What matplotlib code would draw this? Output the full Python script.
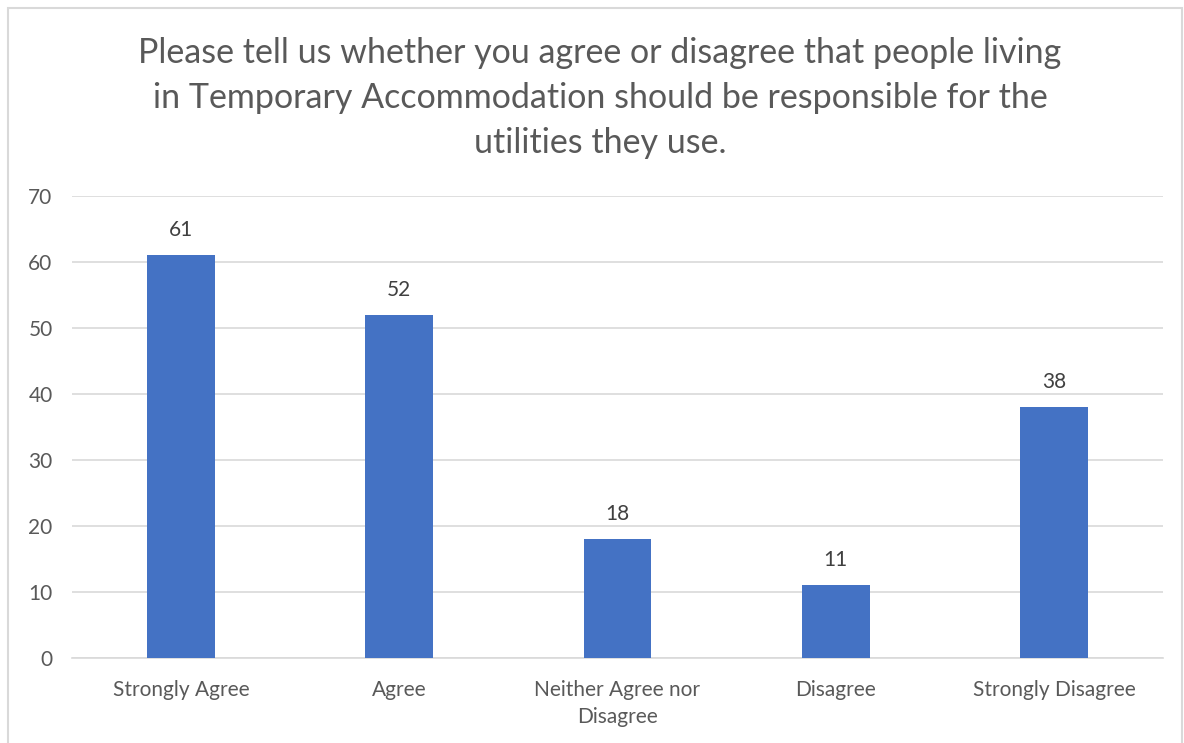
import matplotlib.pyplot as plt
from matplotlib.patches import Rectangle

categories = ["Strongly Agree", "Agree", "Neither Agree nor\nDisagree", "Disagree", "Strongly Disagree"]
responses = [61, 52, 18, 11, 38]
y_ticks = [0, 10, 20, 30, 40, 50, 60, 70]

title = ("Please tell us whether you agree or disagree that people living\n"
         "in Temporary Accommodation should be responsible for the\n"
         "utilities they use.")

plt.rcParams['font.family'] = ['Lato', 'DejaVu Sans']

W, H = 1184, 743
fig = plt.figure(figsize=(W / 100, H / 100), dpi=100)
fig.patch.set_facecolor('white')

# plot area in pixel coordinates
left, right, top, bottom = 72, 1163, 196, 658
ax = fig.add_axes([left / W, 1 - bottom / H, (right - left) / W, (bottom - top) / H])

x = range(len(categories))
bars = ax.bar(x, responses, width=0.31, color='#4472C4', zorder=3)
for b, v in zip(bars, responses):
    ax.annotate(str(v), (b.get_x() + b.get_width() / 2, v), xytext=(0, 18),
                textcoords='offset points', ha='center', va='center',
                fontsize=15, color='#404040')

ax.set_xlim(-0.5, len(categories) - 0.5)
ax.set_ylim(0, 70)
ax.set_yticks(y_ticks)
ax.yaxis.grid(True, color='#D9D9D9', linewidth=1.2, zorder=0)
ax.set_xticks(list(x))
ax.set_xticklabels(categories, fontsize=15, color='#595959', linespacing=1.45)
ax.tick_params(axis='y', labelsize=15, labelcolor='#595959', length=0, pad=14)
ax.tick_params(axis='x', length=0, pad=16)
for s in ['top', 'right', 'left']:
    ax.spines[s].set_visible(False)
ax.spines['bottom'].set_color('#D9D9D9')
ax.spines['bottom'].set_linewidth(1.2)

fig.text(600 / W, 1 - 98 / H, title, ha='center', va='center', fontsize=24.5,
         color='#595959', linespacing=1.5)

# chart border, running off the bottom edge
fig.patches.append(Rectangle((8 / W, -0.05), (1182 - 8) / W, 1.05 - 8 / H, transform=fig.transFigure,
                             fill=False, edgecolor='#D9D9D9', linewidth=1.5))

fig.savefig('out.png', dpi=100, facecolor='white')
